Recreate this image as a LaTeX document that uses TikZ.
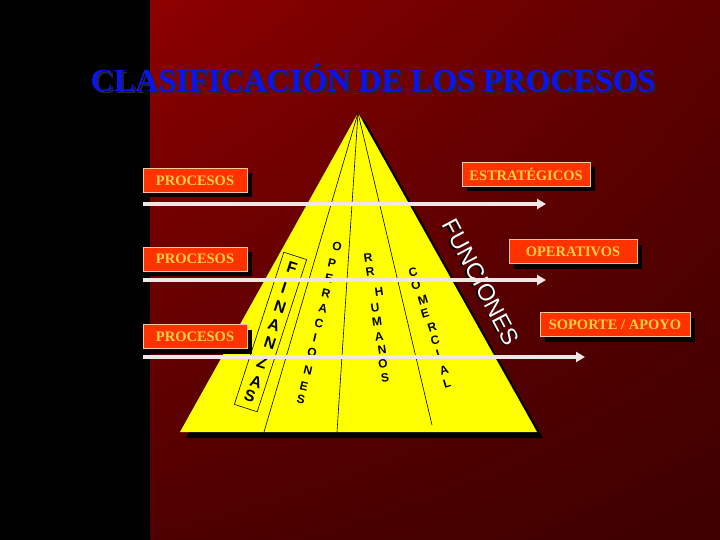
\documentclass[tikz,border=0pt]{standalone}
\usepackage{fontspec}
\setmainfont{Liberation Serif}
\newfontfamily\arialfont{Liberation Sans}
\usetikzlibrary{arrows.meta, shadows, shadings, calc}

\definecolor{bgtl}{HTML}{8E0000}
\definecolor{bgtr}{HTML}{5C0000}
\definecolor{bgbl}{HTML}{4E0000}
\definecolor{bgbr}{HTML}{3E0000}
\definecolor{titleblue}{HTML}{0A14F0}
\definecolor{boxred}{HTML}{FF3300}
\definecolor{boxedge}{HTML}{FFC8A0}
\definecolor{boxtext}{HTML}{FFD040}
\definecolor{arrowgray}{HTML}{F0E6E6}
\definecolor{pyryellow}{HTML}{FFFF00}

\tikzset{
  labelbox/.style={fill=boxred, draw=boxedge, line width=0.8pt, minimum height=24pt,
    inner sep=0pt, text=boxtext, font=\fontsize{14.5}{16}\selectfont\bfseries,
    drop shadow={shadow xshift=5pt, shadow yshift=-5pt, fill=black, opacity=1}},
  flowarrow/.style={arrowgray, line width=4pt, -{Triangle[length=9pt, width=10pt]}},
  colletter/.style={font=\arialfont\bfseries\fontsize{12}{12}\selectfont, inner sep=0pt},
  finletter/.style={font=\arialfont\bfseries\fontsize{16}{16}\selectfont, inner sep=0pt, rotate=-18}
}

\begin{document}
\begin{tikzpicture}[x=1pt, y=-1pt]
\useasboundingbox (0,0) rectangle (720,540);

% Background
\fill[black] (0,0) rectangle (150,540);
\shade[upper left=bgtl, upper right=bgtr, lower left=bgbl, lower right=bgbr] (150,0) rectangle (720,540);

% Title
\node[text=black!85, font=\fontsize{32}{34}\selectfont\bfseries] (titleshadow) at (375,80) {CLASIFICACIÓN DE LOS PROCESOS};
\node[text=titleblue, font=\fontsize{32}{34}\selectfont\bfseries] (title) at (373,78) {CLASIFICACIÓN DE LOS PROCESOS};

% Pyramid
\coordinate (apex) at (358,113);
\coordinate (baseL) at (180,432);
\coordinate (baseR) at (537,432);
\fill[black] ($(apex)+(6,6)$) -- ($(baseR)+(6,6)$) -- ($(baseL)+(6,6)$) -- cycle;
\fill[pyryellow] (apex) -- (baseR) -- (baseL) -- cycle;

% Column lines
\draw[black, line width=0.6pt] (apex) -- (264,432);
\draw[black, line width=0.6pt] (apex) -- (337,432);
\draw[black, line width=0.6pt] (apex) -- (432,425);

% Finanzas
\node[draw=black, line width=0.6pt, minimum width=24pt, minimum height=160pt, rotate=-18] (finbox) at (270.5,332) {};
\foreach \ch/\px/\py [count=\i] in {F/292/268, I/284/288, N/280/307, A/274/325, N/270/343, Z/262/363, A/256/382, S/250/396}
  \node[finletter] (fin\i) at (\px,\py) {\ch};

% Operaciones
\foreach \ch/\px/\py [count=\i] in {O/337/247, P/332/263, E/329/278, R/326/293, A/323/308, C/319/323, I/315/338, O/312/353, N/308/370, E/304/386, S/301/399}
  \node[colletter, rotate=-13] (ope\i) at (\px,\py) {\ch};

% RR Humanos
\foreach \ch/\px/\py [count=\i] in {R/368/258, R/370/272, H/379/292, U/375/308, M/377/322, A/379/337, N/382/350, O/383/364, S/385/378}
  \node[colletter, rotate=8] (hum\i) at (\px,\py) {\ch};

% Comercial
\foreach \ch/\px/\py [count=\i] in {C/413/272, O/416/285, M/423/300, E/425/313, R/432/327, C/435/340, I/438/354, A/444/370, L/447/383}
  \node[colletter, rotate=17] (com\i) at (\px,\py) {\ch};

% Funciones
\node[text=black, font=\arialfont\fontsize{23.5}{24}\selectfont, rotate=-62] (funshadow) at (479.5,283.5) {FUNCIONES};
\node[text=white, font=\arialfont\fontsize{23.5}{24}\selectfont, rotate=-62] (fun) at (481,282) {FUNCIONES};

% Labels
\node[labelbox, minimum width=104pt] (proc1) at (195,180.5) {PROCESOS};
\node[labelbox, minimum width=104pt] (proc2) at (195,259) {PROCESOS};
\node[labelbox, minimum width=104pt] (proc3) at (195,336.5) {PROCESOS};
\node[labelbox, minimum width=128pt] (estr) at (526,174.5) {ESTRATÉGICOS};
\node[labelbox, minimum width=128pt] (oper) at (573,251.5) {OPERATIVOS};
\node[labelbox, minimum width=150pt] (sopo) at (615,324.5) {SOPORTE / APOYO};

% Arrows
\coordinate (a1s) at (143,204);
\coordinate (a1e) at (546,204);
\coordinate (a2s) at (143,280);
\coordinate (a2e) at (546,280);
\coordinate (a3s) at (143,357);
\coordinate (a3e) at (585,357);
\draw[flowarrow] (a1s) -- (a1e);
\draw[flowarrow] (a2s) -- (a2e);
\draw[flowarrow] (a3s) -- (a3e);

\end{tikzpicture}
\end{document}
